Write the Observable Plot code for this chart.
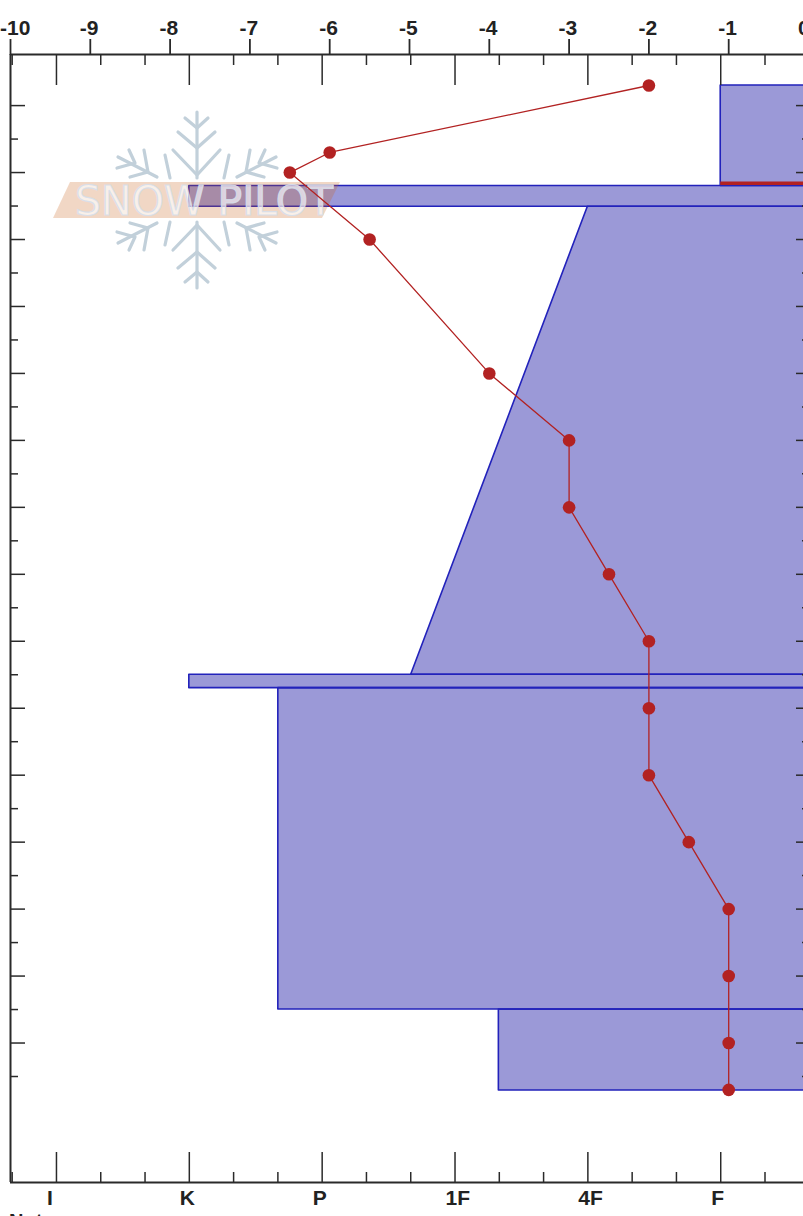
<!DOCTYPE html>
<html>
<head>
<meta charset="utf-8">
<script src="https://cdn.jsdelivr.net/npm/d3@7"></script>
<script src="https://cdn.jsdelivr.net/npm/@observablehq/plot@0.6"></script>
<style>
html,body{margin:0;padding:0;background:#fff;overflow:hidden;width:803px;height:1216px}
#chart svg{max-width:none;display:block}
#notes{font:bold 20px "Liberation Sans",Arial,sans-serif;color:#222;padding-left:9px;line-height:22px;height:22px}
</style>
</head>
<body>
<div id="chart"></div>
<div id="notes">Notes:</div>
<script>
// Temperature profile (°C vs depth in cm from the snow surface)
const tempDepth = [0, 10, 13, 23, 43, 53, 63, 73, 83, 93, 103, 113, 123, 133, 143, 150];
const tempValue = [-2, -6, -6.5, -5.5, -4, -3, -3, -2.5, -2, -2, -2, -1.5, -1, -1, -1, -1];

// Layers: depth top/bottom and hand hardness (0=I ... 5=F) at the top and bottom of each
const layerTop = [0, 15, 18.1, 88, 90, 138];
const layerBottom = [15, 18.1, 88, 90, 138, 150.1];
const hardTop = [5, 1, 4, 1, 1.67, 3.33];
const hardBottom = [5, 1, 2.67, 1, 1.67, 3.33];

// Critical layer marker
const criticalDepth = [14.6];
const criticalHardness = [5];

const hardnessLabels = ["I", "K", "P", "1F", "4F", "F"];
const hardnessMajor = [0, 1, 2, 3, 4, 5];
const hardnessMinor = [-1/3, 1/3, 2/3, 4/3, 5/3, 7/3, 8/3, 10/3, 11/3, 13/3, 14/3, 16/3, 17/3];
const tempTicks = [-10, -9, -8, -7, -6, -5, -4, -3, -2, -1, 0];
const depthMajor = d3.range(3, 144, 10);
const depthMinor = d3.range(8, 149, 10);
const depthDomain = [-4.63, 163.83];

const hardToTemp = d3.scaleLinear().domain([0, 5]).range([-9.424, -1.1]);
const labelByX = new Map(hardnessMajor.map((h, i) => [hardToTemp(h), hardnessLabels[i]]));

const layerPts = layerTop.flatMap((t, i) => [
  {layer: i, depth: t, x1: hardToTemp(hardTop[i])},
  {layer: i, depth: layerBottom[i], x1: hardToTemp(hardBottom[i])}
]);
const profile = tempDepth.map((d, i) => ({depth: d, temp: tempValue[i]}));

// SnowPilot watermark, drawn as its own group
function watermark() {
  const cx = 197, cy = 200;
  const arms = [
    [[0,-88],[0,-22]],
    [[-12,-82],[0,-72],[11,-82]],
    [[-19,-68],[0,-52],[18,-68]],
    [[-24,-50],[0,-25],[23,-50]],
    [[-79,-43],[-40,-23]],
    [[-68,-50],[-62,-37],[-80,-32]],
    [[-53,-50],[-49,-28],[-67,-23]],
    [[-32,-45],[-27,-22]],
    [[79,-43],[40,-23]],
    [[68,-50],[62,-37],[80,-32]],
    [[53,-50],[49,-28],[67,-23]],
    [[32,-45],[27,-22]]
  ];
  const g = d3.create("svg:g");
  const line = d3.line();
  for (const sy of [1, -1]) for (const a of arms) {
    g.append("path")
      .attr("d", line(a.map(([x, y]) => [cx + x, cy + sy * y])))
      .attr("fill", "none").attr("stroke", "#c2d0da")
      .attr("stroke-width", 3.2).attr("stroke-linecap", "round").attr("stroke-linejoin", "round");
  }
  g.append("path").attr("d", "M70,182L340,182L322,218L53,218Z")
    .attr("fill", "#c8661e").attr("fill-opacity", 0.26);
  g.append("text").text("SNOW PILOT")
    .attr("x", 75).attr("y", 215)
    .attr("text-anchor", "start")
    .attr("textLength", 258).attr("lengthAdjust", "spacingAndGlyphs")
    .attr("font-family", "'DejaVu Sans',sans-serif").attr("font-size", 40).attr("font-weight", "normal")
    .attr("fill", "#ffffff").attr("fill-opacity", 0.65)
    .attr("stroke", "#d6deea").attr("stroke-width", 1.2).attr("stroke-opacity", 0.9);
  return g.node();
}

const axisColor = "#2a2a2a";
const chart = Plot.plot({
  width: 815, height: 1210,
  marginLeft: 10, marginRight: 7, marginTop: 54, marginBottom: 28,
  style: {fontFamily: "'Liberation Sans',Arial,sans-serif", fontSize: "21px", fontWeight: "bold", background: "white", overflow: "visible"},
  x: {domain: [-10, 0], axis: null},
  y: {domain: depthDomain, reverse: true, axis: null},
  marks: [
    Plot.areaX(layerPts, {y: "depth", x1: "x1", x2: () => 0, z: "layer", fill: "#05009a", fillOpacity: 0.4, stroke: "#2222bb", strokeWidth: 1.6, curve: "linear"}),
    watermark,
    Plot.ruleY(criticalDepth, {x1: criticalHardness.map(hardToTemp)[0], x2: 0, stroke: "#b22222", strokeWidth: 3.5}),
    // frame
    Plot.ruleX([-10], {stroke: axisColor, strokeWidth: 2}),
    Plot.ruleY(depthDomain, {stroke: axisColor, strokeWidth: 2}),
    // temperature axis (top)
    Plot.axisX({anchor: "top", ticks: tempTicks, tickSize: 16, fill: "none", label: null, stroke: axisColor, strokeWidth: 1.8}),
    Plot.axisX({anchor: "top", ticks: tempTicks, tickSize: 16, tickPadding: 4, tickFormat: d => String(d), label: null, stroke: "none", fill: "#222", textAnchor: "start", dx: -10.5}),
    // hardness ticks hanging from the top
    Plot.axisX({anchor: "top", ticks: hardnessMajor.map(hardToTemp), tickSize: -30, fill: "none", label: null, stroke: axisColor, strokeWidth: 1.5}),
    Plot.axisX({anchor: "top", ticks: hardnessMinor.map(hardToTemp), tickSize: -10, fill: "none", label: null, stroke: axisColor, strokeWidth: 1.5}),
    // hardness axis (bottom)
    Plot.axisX({anchor: "bottom", ticks: hardnessMajor.map(hardToTemp), tickSize: -30, fill: "none", label: null, stroke: axisColor, strokeWidth: 1.5}),
    Plot.axisX({anchor: "bottom", ticks: hardnessMinor.map(hardToTemp), tickSize: -10, fill: "none", label: null, stroke: axisColor, strokeWidth: 1.5}),
    Plot.axisX({anchor: "bottom", ticks: hardnessMajor.map(hardToTemp), tickSize: 0, tickPadding: 8, tickFormat: d => labelByX.get(d), label: null, fill: "#222", stroke: "none", textAnchor: "start", dx: -9.5}),
    // depth ticks
    Plot.axisY({anchor: "left", ticks: depthMajor, tickSize: -15, fill: "none", label: null, stroke: axisColor, strokeWidth: 1.5}),
    Plot.axisY({anchor: "left", ticks: depthMinor, tickSize: -8, fill: "none", label: null, stroke: axisColor, strokeWidth: 1.5}),
    Plot.axisY({anchor: "right", ticks: depthMajor, tickSize: -13, fill: "none", label: null, stroke: axisColor, strokeWidth: 1.5}),
    Plot.axisY({anchor: "right", ticks: depthMinor, tickSize: -7, fill: "none", label: null, stroke: axisColor, strokeWidth: 1.5}),
    // temperature profile
    Plot.line(profile, {x: "temp", y: "depth", stroke: "#b22222", strokeWidth: 1.3, curve: "linear"}),
    Plot.dot(profile, {x: "temp", y: "depth", r: 6.3, fill: "#b22222", stroke: "none"})
  ]
});
document.getElementById("chart").appendChild(chart);
</script>
</body>
</html>
